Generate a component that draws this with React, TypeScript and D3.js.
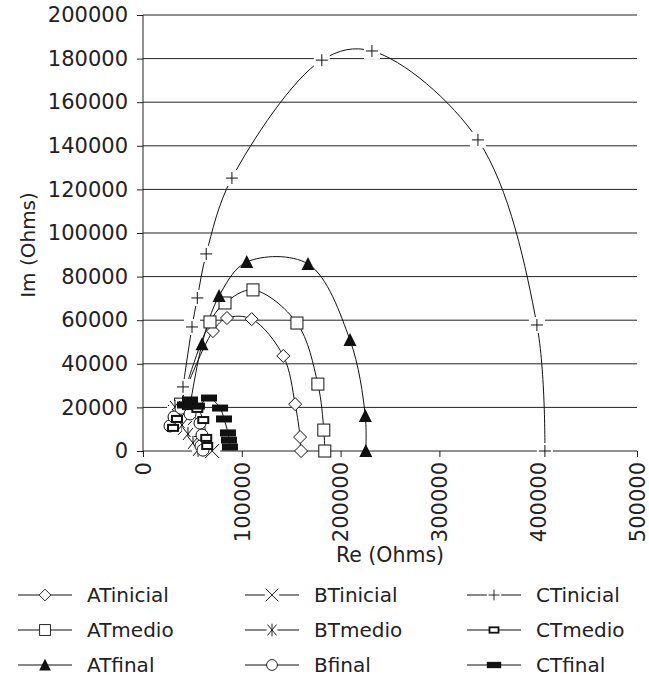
import React, { useRef, useEffect } from 'react';
import * as d3 from 'd3';

// tick values
const xTicks = [0, 100000, 200000, 300000, 400000, 500000];
const yTicks = [0, 20000, 40000, 60000, 80000, 100000, 120000, 140000, 160000, 180000, 200000];

// series (Re, Im)
const atInicialRe = [35400, 70800, 85000, 110000, 142000, 154000, 159000, 160000];
const atInicialIm = [19300, 55000, 61000, 60500, 43600, 21500, 6400, 0];

const atMedioRe = [38000, 67800, 83000, 111300, 155800, 177000, 183000, 184000];
const atMedioIm = [21500, 59200, 67900, 73900, 58700, 30700, 9600, 0];

const atFinalRe = [44500, 59700, 77000, 105000, 167000, 209500, 225000, 225500];
const atFinalIm = [11900, 49000, 71100, 86700, 85800, 50900, 16000, 0];

const btInicialRe = [32400, 35400, 42500, 52600, 62700, 70000];
const btInicialIm = [17900, 14200, 10600, 6400, 2300, 0];

const btMedioRe = [32400, 34400, 39500, 45500, 50600, 55700];
const btMedioIm = [20200, 16500, 11900, 7800, 3700, 500];

const bFinalRe = [27300, 31400, 38500, 47600, 57700, 59700, 58700, 60700];
const bFinalIm = [11500, 15600, 19600, 17000, 12800, 7300, 2300, 400];

const ctInicialRe = [40500, 49600, 55000, 64000, 90000, 181000, 231700, 339000, 398700, 406800];
const ctInicialIm = [29400, 56900, 70200, 90400, 125200, 179300, 183500, 142700, 57800, 0];

const ctMedioRe = [30400, 34400, 45500, 55000, 61000, 64000, 65000];
const ctMedioIm = [10600, 14700, 20600, 19300, 14200, 6000, 2300];

const ctFinalRe = [42500, 47600, 54600, 66800, 78000, 82000, 86000, 87000, 88000];
const ctFinalIm = [21100, 23400, 20600, 24300, 19700, 14700, 8300, 5000, 1800];

type Marker = 'diamond' | 'square' | 'triangle' | 'x' | 'star' | 'circle' | 'plus' | 'rectOpen' | 'rectFilled';

const series: { name: string; re: number[]; im: number[]; marker: Marker }[] = [
  { name: 'ATinicial', re: atInicialRe, im: atInicialIm, marker: 'diamond' },
  { name: 'ATmedio', re: atMedioRe, im: atMedioIm, marker: 'square' },
  { name: 'ATfinal', re: atFinalRe, im: atFinalIm, marker: 'triangle' },
  { name: 'BTinicial', re: btInicialRe, im: btInicialIm, marker: 'x' },
  { name: 'BTmedio', re: btMedioRe, im: btMedioIm, marker: 'star' },
  { name: 'Bfinal', re: bFinalRe, im: bFinalIm, marker: 'circle' },
  { name: 'CTinicial', re: ctInicialRe, im: ctInicialIm, marker: 'plus' },
  { name: 'CTmedio', re: ctMedioRe, im: ctMedioIm, marker: 'rectOpen' },
  { name: 'CTfinal', re: ctFinalRe, im: ctFinalIm, marker: 'rectFilled' },
];

const FONT = "'DejaVu Sans', sans-serif";
const INK = '#222';

function drawMarker(g: any, type: Marker, x: number, y: number, k = 1) {
  const m = g.append('g').attr('transform', `translate(${x},${y}) scale(${k})`);
  switch (type) {
    case 'diamond':
      m.append('path').attr('d', 'M0,-6.5L6.5,0L0,6.5L-6.5,0Z').attr('fill', '#fff').attr('stroke', '#111').attr('stroke-width', 1);
      break;
    case 'square':
      m.append('rect').attr('x', -6).attr('y', -6).attr('width', 12).attr('height', 12)
        .attr('fill', '#fff').attr('stroke', '#111').attr('stroke-width', 1);
      break;
    case 'triangle':
      m.append('path').attr('d', 'M0,-7L6.5,6L-6.5,6Z').attr('fill', '#111');
      break;
    case 'x':
      m.append('rect').attr('x', -8).attr('y', -8).attr('width', 16).attr('height', 16).attr('fill', '#fff');
      m.append('path').attr('d', 'M-7,-7L7,7M-7,7L7,-7').attr('stroke', '#111').attr('stroke-width', 1);
      break;
    case 'star':
      m.append('rect').attr('x', -6).attr('y', -6).attr('width', 12).attr('height', 12).attr('fill', '#fff');
      m.append('path').attr('d', 'M-5,-6L5,6M-5,6L5,-6M0,-7L0,7').attr('stroke', '#111').attr('stroke-width', 1);
      break;
    case 'circle':
      m.append('circle').attr('r', 6).attr('fill', '#fff').attr('stroke', '#111').attr('stroke-width', 1);
      break;
    case 'plus':
      m.append('rect').attr('x', -8).attr('y', -8).attr('width', 16).attr('height', 16).attr('fill', '#fff');
      m.append('path').attr('d', 'M-6,0L6,0M0,-6L0,6').attr('stroke', '#111').attr('stroke-width', 1);
      break;
    case 'rectOpen':
      m.append('rect').attr('x', -5).attr('y', -3).attr('width', 10).attr('height', 6)
        .attr('fill', '#fff').attr('stroke', '#111').attr('stroke-width', 2);
      break;
    case 'rectFilled':
      m.append('rect').attr('x', -8).attr('y', -3.5).attr('width', 16).attr('height', 7).attr('fill', '#111');
      break;
  }
}

function App() {
  const svgRef = useRef<SVGSVGElement>(null);

  useEffect(() => {
    document.body.style.margin = '0';
    const width = 649;
    const height = 688;
    const margin = { top: 15, right: 12, bottom: 237, left: 143 };
    const innerWidth = width - margin.left - margin.right;
    const innerHeight = height - margin.top - margin.bottom;

    d3.select(svgRef.current).selectAll('*').remove();
    const svg = d3.select(svgRef.current).attr('width', width).attr('height', height);
    const g = svg.append('g').attr('transform', `translate(${margin.left},${margin.top})`);

    const x = d3.scaleLinear().domain([0, 500000]).range([0, innerWidth]);
    const y = d3.scaleLinear().domain([0, 200000]).range([innerHeight, 0]);

    // gridlines
    g.append('g')
      .selectAll('line')
      .data(yTicks.filter(d => d > 0))
      .enter()
      .append('line')
      .attr('x1', 0)
      .attr('x2', innerWidth)
      .attr('y1', d => y(d))
      .attr('y2', d => y(d))
      .attr('stroke', INK)
      .attr('stroke-width', 1);

    // y axis
    const yAxis = g.append('g').call(d3.axisLeft(y).tickValues(yTicks).tickSize(6).tickFormat(d3.format('d')));
    yAxis.selectAll('path, line').attr('stroke', INK);
    yAxis.select('.domain').attr('d', `M0,${innerHeight}V0`);
    yAxis.selectAll('text')
      .attr('x', -15)
      .style('font-family', FONT)
      .style('font-size', '21px')
      .attr('fill', INK);

    // x axis
    const xAxis = g.append('g')
      .attr('transform', `translate(0,${innerHeight})`)
      .call(d3.axisBottom(x).tickValues(xTicks).tickSize(6).tickFormat(d3.format('d')));
    xAxis.selectAll('path, line').attr('stroke', INK);
    xAxis.select('.domain').attr('d', `M0,0H${innerWidth}`);
    xAxis.selectAll('text')
      .attr('transform', 'rotate(-90)')
      .attr('x', -11)
      .attr('y', 0)
      .attr('dy', '0.35em')
      .style('text-anchor', 'end')
      .style('font-family', FONT)
      .style('font-size', '21px')
      .attr('fill', INK);

    // axis titles
    g.append('text')
      .attr('transform', 'rotate(-90)')
      .attr('x', -230)
      .attr('y', -108)
      .attr('text-anchor', 'middle')
      .style('font-family', FONT)
      .style('font-size', '20px')
      .attr('fill', INK)
      .text('Im (Ohms)');

    g.append('text')
      .attr('x', innerWidth / 2)
      .attr('y', innerHeight + 111)
      .attr('text-anchor', 'middle')
      .style('font-family', FONT)
      .style('font-size', '20.5px')
      .attr('fill', INK)
      .text('Re (Ohms)');

    // series lines
    const line = d3.line<[number, number]>()
      .x(d => x(d[0]))
      .y(d => y(d[1]))
      .curve(d3.curveCatmullRom.alpha(0.5));

    series.forEach(s => {
      const pts: [number, number][] = s.re.map((r, i) => [r, s.im[i]]);
      g.append('path')
        .datum(pts)
        .attr('d', line)
        .attr('fill', 'none')
        .attr('stroke', '#111')
        .attr('stroke-width', 1);
    });

    // markers
    series.forEach(s => {
      const mg = g.append('g');
      s.re.forEach((r, i) => drawMarker(mg, s.marker, x(r), y(s.im[i])));
    });

    // legend
    const legend = svg.append('g');
    const colX = [18, 245, 467];
    const rowY = [595, 630, 665];
    series.forEach((s, i) => {
      const col = Math.floor(i / 3);
      const row = i % 3;
      const lx = colX[col];
      const ly = rowY[row];
      legend.append('line')
        .attr('x1', lx).attr('x2', lx + 54)
        .attr('y1', ly).attr('y2', ly)
        .attr('stroke', '#111').attr('stroke-width', 1);
      drawMarker(legend, s.marker, lx + 27, ly, 0.9);
      legend.append('text')
        .attr('x', lx + 69)
        .attr('y', ly)
        .attr('dy', '0.36em')
        .style('font-family', FONT)
        .style('font-size', '20px')
        .attr('fill', INK)
        .text(s.name);
    });
  }, []);

  return (
    <div>
      <svg ref={svgRef}></svg>
    </div>
  );
}

export default App;
